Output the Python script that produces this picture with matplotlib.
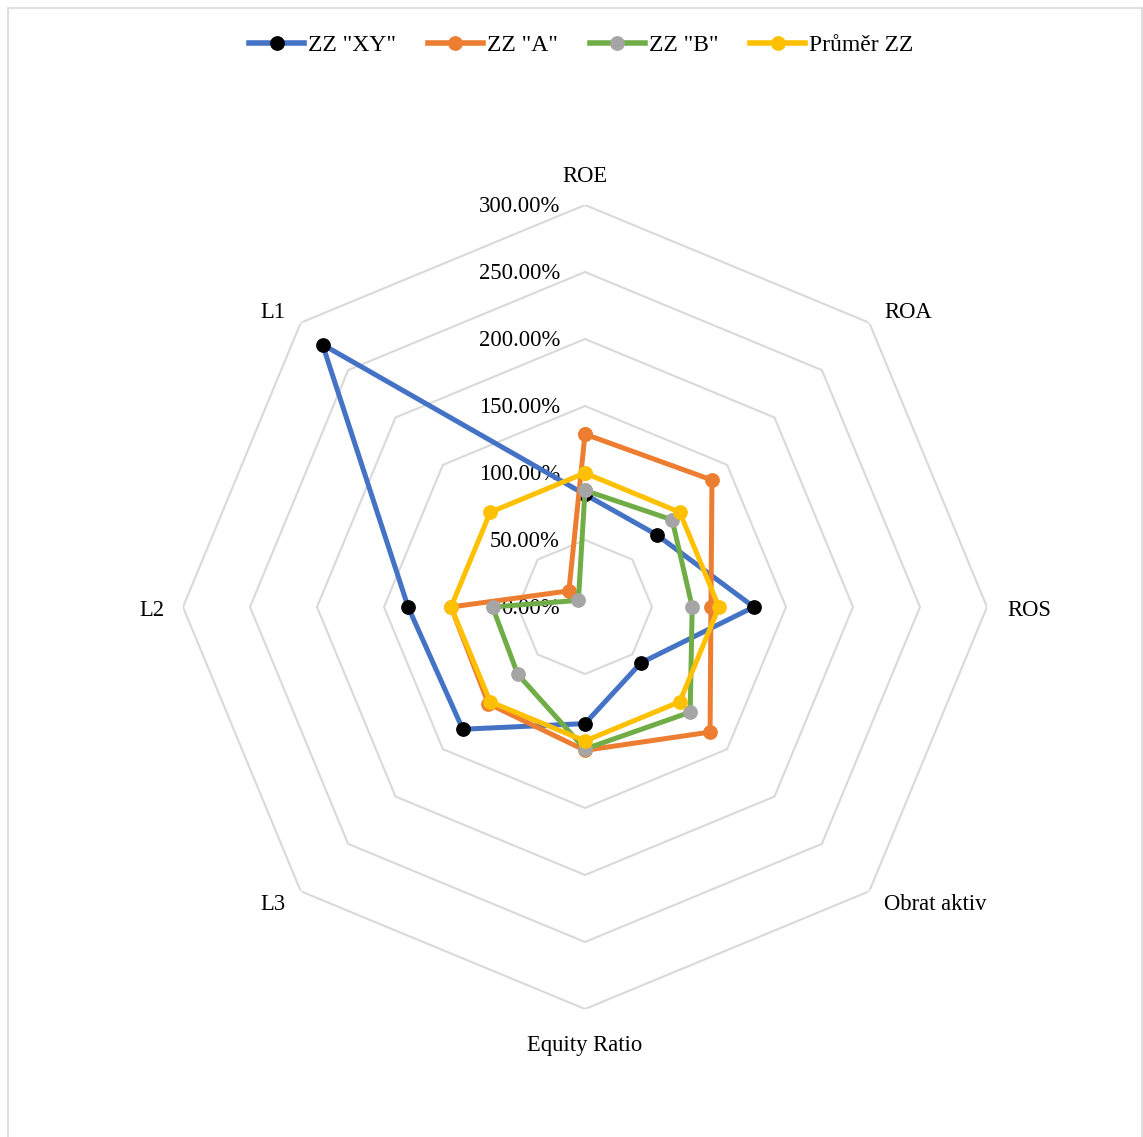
import numpy as np
import matplotlib
matplotlib.use('Agg')
import matplotlib.pyplot as plt
from matplotlib.patches import Rectangle


categories = ['ROE', 'ROA', 'ROS', 'Obrat aktiv', 'Equity Ratio', 'L3', 'L2', 'L1']

xy_vals = [84, 76, 126, 59, 87, 129, 132, 277]
a_vals = [129, 134, 94, 132, 107, 102, 100, 17]
b_vals = [87, 92, 80, 111, 106, 71, 69, 7]
avg_vals = [100, 100, 100, 100, 100, 100, 100, 100]

series_names = ['ZZ "XY"', 'ZZ "A"', 'ZZ "B"', 'Průměr ZZ']
ring_values = [0, 50, 100, 150, 200, 250, 300]
ring_labels = ['0.00%', '50.00%', '100.00%', '150.00%', '200.00%', '250.00%', '300.00%']

plt.rcParams['font.family'] = ['Liberation Serif', 'DejaVu Serif']

W, H = 1143, 1137
fig = plt.figure(figsize=(W / 100, H / 100), dpi=100)

# outer chart border
fig.patches.append(Rectangle((8 / W, -0.01), (1142 - 8) / W, (H - 8) / H + 0.01,
                             transform=fig.transFigure, fill=False,
                             edgecolor='#d9d9d9', lw=1.2))

cx, cy, R = 585, 607, 402
ax = fig.add_axes([(cx - R) / W, (H - cy - R) / H, 2 * R / W, 2 * R / H],
                  projection='polar')
ax.set_theta_offset(np.pi / 2)
ax.set_theta_direction(-1)
ax.set_ylim(0, 300)
ax.grid(False)
ax.spines['polar'].set_visible(False)
ax.set_xticks([])
ax.set_yticks([])
ax.patch.set_alpha(0)

n = len(categories)
theta = np.linspace(0, 2 * np.pi, n, endpoint=False)
theta_closed = np.append(theta, theta[0])

# octagon grid
for r in ring_values[1:]:
    ax.plot(theta_closed, [r] * (n + 1), color='#d9d9d9', lw=1.5, zorder=1)

# ring labels
for r, lab in zip(ring_values, ring_labels):
    ax.annotate(lab, xy=(0, r), xytext=(-25, -7), textcoords='offset pixels',
                ha='right', va='baseline', fontsize=16.3, color='black', zorder=2)

# category labels
label_offsets = {
    'ROE': (0, 23, 'center'),
    'ROA': (15, 5, 'left'),
    'ROS': (20, -9, 'left'),
    'Obrat aktiv': (15, -19, 'left'),
    'Equity Ratio': (0, -42, 'center'),
    'L3': (-15, -19, 'right'),
    'L2': (-18, -9, 'right'),
    'L1': (-15, 5, 'right'),
}
for t, cat in zip(theta, categories):
    dx, dy, ha = label_offsets[cat]
    ax.annotate(cat, xy=(t, 300), xytext=(dx, dy), textcoords='offset pixels',
                ha=ha, va='baseline', fontsize=16.3, color='black',
                annotation_clip=False)

colors = ['#4472c4', '#ed7d31', '#70ad47', '#ffc000']
marker_colors = ['black', '#ed7d31', '#a5a5a5', '#ffc000']
all_vals = [xy_vals, a_vals, b_vals, avg_vals]

for i, (vals, name) in enumerate(zip(all_vals, series_names)):
    v = np.append(vals, vals[0])
    ax.plot(theta_closed, v, color=colors[i], lw=3.6, marker='o', markersize=9.6,
            markerfacecolor=marker_colors[i], markeredgecolor=marker_colors[i],
            label=name, zorder=3 + i, clip_on=False)

handles, labels = ax.get_legend_handles_labels()
leg = fig.legend(handles, labels, loc='center', bbox_to_anchor=(581 / W, 1 - 45 / H),
                 ncol=4, frameon=False, fontsize=17, handlelength=2.35,
                 handletextpad=0.15, columnspacing=1.35, borderpad=0)
for line in leg.get_lines():
    line.set_linewidth(4)

fig.savefig('out.png', dpi=100)
